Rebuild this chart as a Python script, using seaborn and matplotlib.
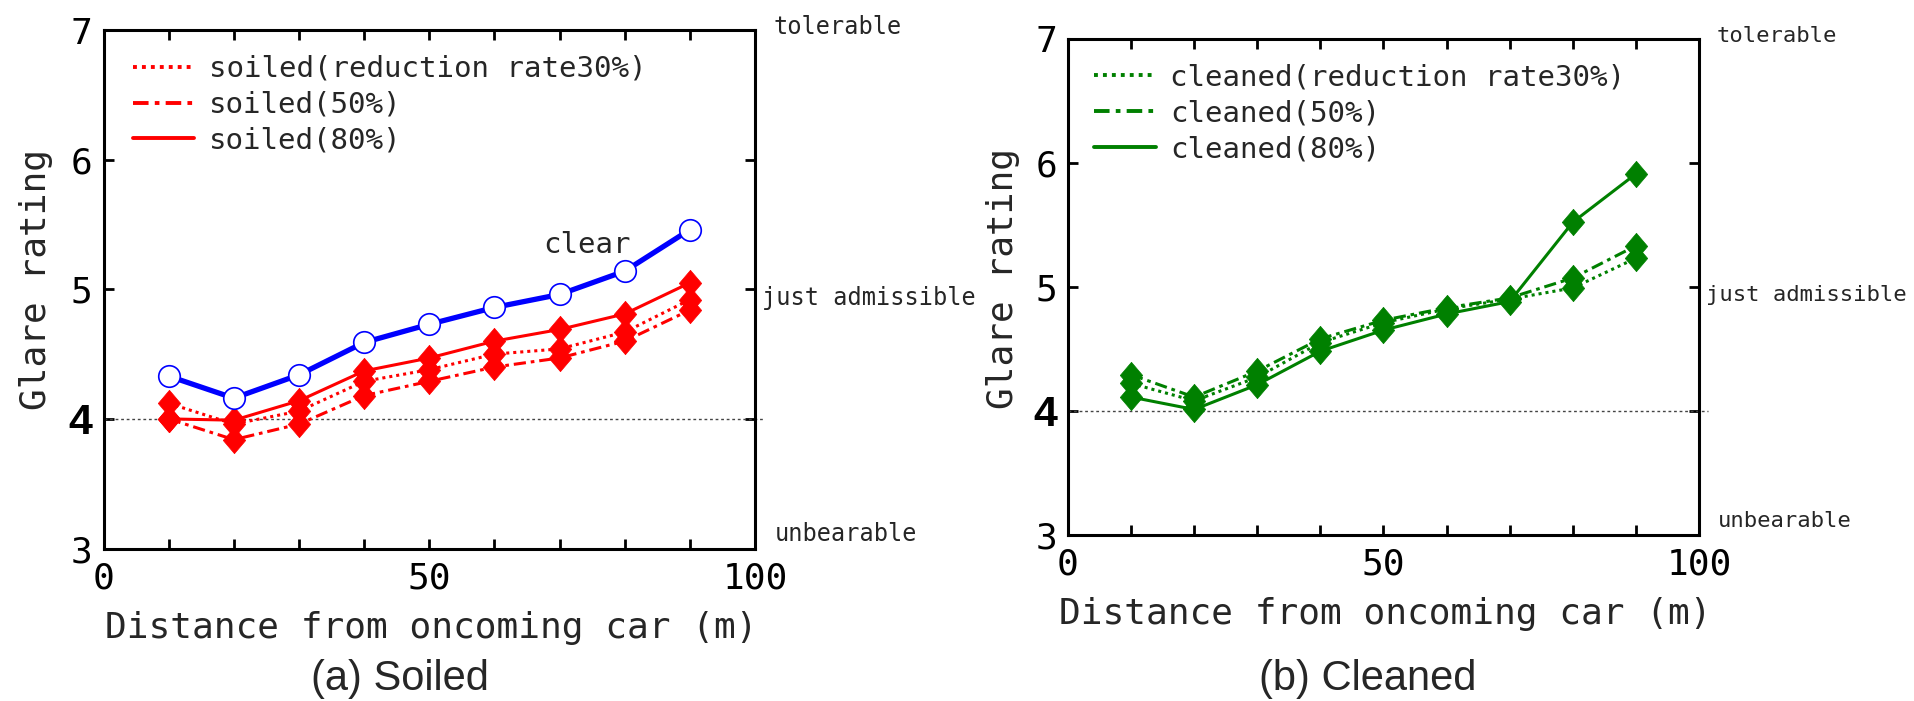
import matplotlib
matplotlib.use("Agg")
import matplotlib.pyplot as plt
from matplotlib.lines import Line2D
import seaborn as sns
import pandas as pd

# ---------------- data ----------------
distance = [10, 20, 30, 40, 50, 60, 70, 80, 90]
clear = [4.33, 4.16, 4.34, 4.59, 4.73, 4.86, 4.96, 5.14, 5.46]
soiled30 = [4.12, 3.96, 4.06, 4.29, 4.38, 4.50, 4.54, 4.67, 4.92]
soiled50 = [4.00, 3.84, 3.96, 4.18, 4.29, 4.40, 4.47, 4.60, 4.84]
soiled80 = [4.00, 3.99, 4.14, 4.37, 4.47, 4.60, 4.69, 4.81, 5.05]
cleaned30 = [4.22, 4.08, 4.27, 4.55, 4.71, 4.82, 4.90, 4.99, 5.23]
cleaned50 = [4.29, 4.11, 4.32, 4.58, 4.73, 4.83, 4.91, 5.07, 5.33]
cleaned80 = [4.11, 4.01, 4.21, 4.48, 4.65, 4.78, 4.88, 5.52, 5.91]

soiled_labels = ["soiled(reduction rate30%)", "soiled(50%)", "soiled(80%)"]
cleaned_labels = ["cleaned(reduction rate30%)", "cleaned(50%)", "cleaned(80%)"]
scale_labels = ["tolerable", "just admissible", "unbearable"]
threshold = 4
xlabel = "Distance from oncoming car (m)"
ylabel = "Glare rating"
captions = ["(a) Soiled", "(b) Cleaned"]
x_ticks = [0, 10, 20, 30, 40, 50, 60, 70, 80, 90, 100]
x_ticklabels = ["0", "", "", "", "", "50", "", "", "", "", "100"]
y_ticks = [3, 4, 5, 6, 7]

sns.set_style("ticks")
plt.rcParams["font.family"] = ["DejaVu Sans Mono"]
MONO = ["DejaVu Sans Mono"]
SANS = ["Liberation Sans", "DejaVu Sans"]

fig = plt.figure(figsize=(19.15, 7.01), dpi=100)
fig.patch.set_facecolor("white")
ax1 = fig.add_axes([0.0541, 0.2175, 0.3402, 0.7397])
ax2 = fig.add_axes([0.5577, 0.2372, 0.3295, 0.7076])

diamond = [(-0.85, 0), (0, 1), (0.85, 0), (0, -1), (-0.85, 0)]
styles = [(0, (1, 1.3)), (0, (4, 1.6, 1.2, 1.6)), "-"]


def draw_series(ax, ys, color, ls, lw=2.2, marker=diamond, ms=19, mfc=None, mec=None, mew=0.5, z=3):
    df = pd.DataFrame({"x": distance, "y": ys})
    sns.lineplot(data=df, x="x", y="y", ax=ax, color=color, linestyle=ls, linewidth=lw,
                 marker=marker, markersize=ms,
                 markerfacecolor=mfc if mfc else color,
                 markeredgecolor=mec if mec else color,
                 markeredgewidth=mew, legend=False, zorder=z)


def style_axes(ax, ylab_x, ylab_y, xlab_y, side_size):
    ax.set_xlim(0, 100)
    ax.set_ylim(3, 7)
    ax.set_xticks(x_ticks)
    ax.set_xticklabels(x_ticklabels)
    ax.set_yticks(y_ticks)
    ax.set_yticklabels([str(v) for v in y_ticks])
    ax.tick_params(axis="both", direction="in", length=7, width=2, top=True, right=True,
                   labeltop=False, labelright=False, colors="black")
    ax.tick_params(axis="x", pad=9, labelsize=26)
    ax.tick_params(axis="y", pad=8, labelsize=26)
    for lbl in ax.get_xticklabels() + ax.get_yticklabels():
        lbl.set_fontfamily(MONO)
    for lbl in ax.get_yticklabels():
        if lbl.get_text() == "4":
            lbl.set_fontfamily(SANS)
            lbl.set_fontweight("bold")
            lbl.set_fontsize(31)
    for sp in ax.spines.values():
        sp.set_linewidth(2.2)
        sp.set_color("black")
        sp.set_visible(True)
    ax.set_xlabel(xlabel, fontsize=26, family=MONO, va="top")
    ax.xaxis.set_label_coords(0.503, xlab_y)
    ax.set_ylabel(ylabel, fontsize=26, family=MONO, va="center")
    ax.yaxis.set_label_coords(ylab_x, ylab_y)
    ax.plot([0, 101.4], [threshold, threshold], color="#444444", lw=1.0,
            linestyle=(0, (2, 2)), clip_on=False, zorder=1)
    ax.text(102.8, 7.025, scale_labels[0], fontsize=side_size, family=MONO, va="center", ha="left", clip_on=False)
    ax.text(101.1, 4.93, scale_labels[1], fontsize=side_size, family=MONO, va="center", ha="left", clip_on=False)
    ax.text(103.0, 3.11, scale_labels[2], fontsize=side_size, family=MONO, va="center", ha="left", clip_on=False)


# ---- panel (a) soiled ----
draw_series(ax1, clear, "#0000FF", "-", lw=3.8, marker="o", ms=15.5, mfc="white", mec="#0000FF", mew=1.2, z=4)
red = "#FF0000"
for ys, ls in zip([soiled30, soiled50, soiled80], styles):
    draw_series(ax1, ys, red, ls)
ax1.text(67.5, 5.34, "clear", fontsize=21, family=MONO, va="center", ha="left")
style_axes(ax1, -0.104, 0.518, -0.12, 17)
h1 = [Line2D([], [], color=red, lw=2.8, linestyle=ls) for ls in styles]
ax1.legend(h1, soiled_labels, loc="upper left", bbox_to_anchor=(0.045, 0.952), frameon=False,
           prop={"family": MONO, "size": 21}, handlelength=2.1, handletextpad=0.5,
           labelspacing=0.27, borderpad=0, borderaxespad=0)

# ---- panel (b) cleaned ----
green = "#008000"
for ys, ls in zip([cleaned30, cleaned50, cleaned80], styles):
    draw_series(ax2, ys, green, ls)
style_axes(ax2, -0.103, 0.517, -0.125, 16)
h2 = [Line2D([], [], color=green, lw=2.8, linestyle=ls) for ls in styles]
ax2.legend(h2, cleaned_labels, loc="upper left", bbox_to_anchor=(0.042, 0.95), frameon=False,
           prop={"family": MONO, "size": 21}, handlelength=2.1, handletextpad=0.5,
           labelspacing=0.27, borderpad=0, borderaxespad=0)

fig.text(400 / 1915, 1 - 679 / 701, captions[0], fontsize=30, family=SANS, ha="center", va="center")
fig.text(1368 / 1915, 1 - 679 / 701, captions[1], fontsize=30, family=SANS, ha="center", va="center")

fig.savefig("out.png", dpi=100, facecolor="white")
